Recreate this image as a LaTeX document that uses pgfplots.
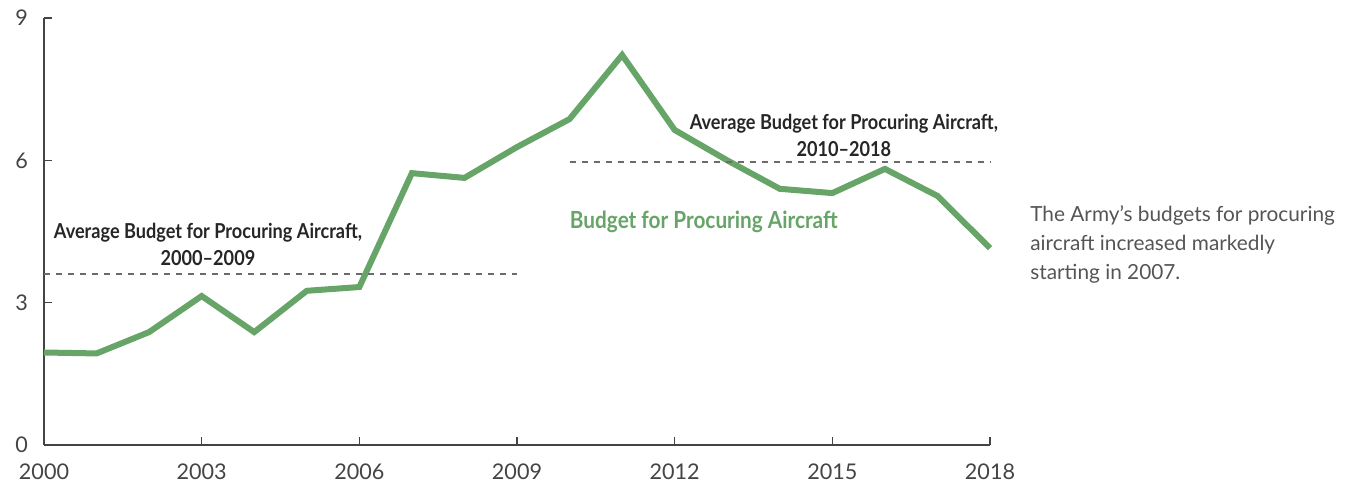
\documentclass[border=0pt]{standalone}
\usepackage{pgfplots}
\pgfplotsset{compat=1.18}
\usepackage{fontspec}
\setmainfont{Lato}
\newfontfamily\condbold[FakeStretch=0.88, Ligatures=TeX]{Lato Bold}
\definecolor{budgetgreen}{HTML}{67A467}
\definecolor{avggray}{HTML}{6B6B6B}
\definecolor{ticktext}{HTML}{444444}
\definecolor{notetext}{HTML}{555555}

\begin{document}
\begin{tikzpicture}
% 1 px of the reference = 0.5pt
\path[use as bounding box] (-22pt,-19.5pt) rectangle (652pt,222.5pt);

\begin{axis}[
  at={(0,0)}, anchor=origin,
  scale only axis,
  width=473pt, height=213.5pt,
  xmin=2000, xmax=2018,
  ymin=0, ymax=9,
  axis x line=bottom, axis y line=left,
  axis line style={-, line width=0.6pt, color=ticktext},
  xtick={2000,2003,...,2018},
  ytick={0,3,6,9},
  tick align=inside,
  major tick length=4pt,
  tick style={line width=0.6pt, color=ticktext},
  /pgf/number format/assume math mode=true,
  /pgf/number format/1000 sep={},
  ticklabel style={font=\fontsize{10.8}{12}\selectfont, text=ticktext},
  xticklabel style={yshift=-6pt},
  yticklabel style={xshift=-4.5pt},
  clip=false,
]

\addplot[color=budgetgreen, line width=3pt, line join=miter] coordinates {
  (2000, 1.95) (2001, 1.93) (2002, 2.38) (2003, 3.14) (2004, 2.38)
  (2005, 3.25) (2006, 3.33) (2007, 5.73) (2008, 5.63) (2009, 6.28)
  (2010, 6.87) (2011, 8.22) (2012, 6.64) (2013, 6.00) (2014, 5.40)
  (2015, 5.31) (2016, 5.82) (2017, 5.25) (2018, 4.15)
};

% period averages
\addplot[color=avggray, line width=1.1pt, dash pattern=on 3pt off 3pt] coordinates {
  (2000, 3.60) (2009, 3.60)
};
\addplot[color=avggray, line width=1.1pt, dash pattern=on 3pt off 3pt] coordinates {
  (2010, 5.96) (2018, 5.96)
};

\node[align=center, font=\condbold\fontsize{10.3}{13.5}\selectfont, text=black!85]
  at (axis cs:2003.12, 4.22) {Average Budget for Procuring Aircraft,\\2000--2009};
\node[align=center, font=\condbold\fontsize{10.3}{13.5}\selectfont, text=black!85]
  at (axis cs:2015.22, 6.53) {Average Budget for Procuring Aircraft,\\2010--2018};
\node[anchor=west, inner sep=0pt, font=\condbold\fontsize{11.8}{13}\selectfont, text=budgetgreen]
  at (axis cs:2010, 4.70) {Budget for Procuring Aircraft};

\node[anchor=west, align=left, inner sep=0pt, font=\fontsize{10.4}{14.5}\selectfont, text=notetext]
  at (axis cs:2018.76, 4.22) {The Army’s budgets for procuring\\aircraft increased markedly\\starting in 2007.};
\end{axis}
\end{tikzpicture}
\end{document}
